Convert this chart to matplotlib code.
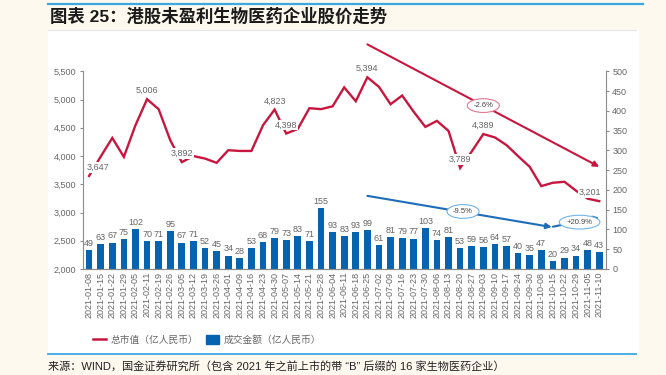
import matplotlib
matplotlib.use('Agg')
import matplotlib.pyplot as plt
from matplotlib.lines import Line2D
from matplotlib.patches import Patch, Rectangle

dates = ['2021-01-08', '2021-01-15', '2021-01-22', '2021-01-29', '2021-02-05', '2021-02-11',
         '2021-02-19', '2021-02-26', '2021-03-05', '2021-03-12', '2021-03-19', '2021-03-26',
         '2021-04-01', '2021-04-09', '2021-04-16', '2021-04-23', '2021-04-30', '2021-05-07',
         '2021-05-14', '2021-05-21', '2021-05-28', '2021-06-04', '2021-06-11', '2021-06-18',
         '2021-06-25', '2021-07-02', '2021-07-09', '2021-07-16', '2021-07-23', '2021-07-30',
         '2021-08-06', '2021-08-13', '2021-08-20', '2021-08-27', '2021-09-03', '2021-09-10',
         '2021-09-17', '2021-09-24', '2021-09-30', '2021-10-08', '2021-10-15', '2021-10-22',
         '2021-10-29', '2021-11-05', '2021-11-10']

# 总市值 (left axis)
mkt_cap = [3647, 3990, 4320, 3985, 4545, 5006, 4829, 4280, 3892, 4000, 3955, 3880,
           4103, 4090, 4090, 4545, 4823, 4398, 4480, 4847, 4830, 4880, 5215, 4970,
           5394, 5224, 4917, 5071, 4782, 4516, 4622, 4445, 3789, 4080, 4389, 4329,
           4193, 3998, 3809, 3468, 3527, 3544, 3385, 3245, 3201]

# 成交金额 (right axis)
turnover = [49, 63, 67, 75, 102, 70, 71, 95, 67, 71, 52, 45, 34, 28, 53, 68, 79, 73,
            83, 71, 155, 93, 83, 93, 99, 61, 81, 79, 77, 103, 74, 81, 53, 59, 56, 64,
            57, 40, 35, 47, 20, 29, 34, 48, 43]

# labelled points on the line: index -> horizontal shift in points
cap_labels = {0: 6.5, 5: 0, 8: 0, 16: 0, 17: 0, 24: 0, 32: 0, 34: 0, 44: -6.5}

# trend arrows: (start idx, start val, end idx, end val, label)
cap_trend = (24, 5977, 44, 3809, '-2.6%')
vol_trends = [(24, 185, 39.9, 106, '-9.5%'), (40, 107, 44, 130, '+20.9%')]

RED = '#C8173F'
BLUE = '#0563AF'
GRAY = '#666666'
num_font = ['Liberation Sans', 'DejaVu Sans']
cjk_font = ['Liberation Sans', 'Noto Sans CJK SC', 'DejaVu Sans']

fig = plt.figure(figsize=(6.66, 3.75), dpi=100, facecolor='#FEF9EF')
W, H = 666, 375

# white chart card + rules
fig.patches.append(Rectangle((48 / W, 1 - 354 / H), (639 - 48) / W, (354 - 29.5) / H,
                             transform=fig.transFigure, fc='white', ec='none', zorder=-10))
fig.add_artist(Line2D([48 / W, 643 / W], [1 - 4 / H, 1 - 4 / H], color='#3DA8E0', lw=1.6))
fig.add_artist(Line2D([48 / W, 636 / W], [1 - 354 / H, 1 - 354 / H], color='#3DA8E0', lw=1.3))
fig.add_artist(Line2D([48 / W, 636 / W], [1 - 29.5 / H, 1 - 29.5 / H], color='#E2E8E8', lw=0.8))

fig.text(50 / W, 1 - 16 / H, '图表 25：港股未盈利生物医药企业股价走势', fontsize=12.5,
         fontweight='bold', family=cjk_font, color='#1A1A1A', va='center', ha='left')
fig.text(48 / W, 1 - 366 / H,
         '来源：WIND，国金证券研究所（包含 2021 年之前上市的带 “B” 后缀的 16 家生物医药企业）',
         fontsize=8, family=cjk_font, color='#222222', va='center', ha='left')

ax = fig.add_axes([82.7 / W, 1 - 269 / H, (606 - 82.7) / W, (269 - 71.3) / H])
ax2 = ax.twinx()
ax2.set_zorder(1)
ax.set_zorder(2)
ax.patch.set_visible(False)
ax2.patch.set_visible(False)

x = list(range(len(dates)))

bars = ax2.bar(x, turnover, width=0.58, color=BLUE, zorder=2)
for xi, v in zip(x, turnover):
    ax2.annotate(str(v), (xi, v), xytext=(0, 1.5), textcoords='offset points',
                 ha='center', va='bottom', fontsize=6.5, color=GRAY, family=num_font)

ax.plot(x, mkt_cap, color=RED, lw=1.7, zorder=3, solid_joinstyle='miter')
for i, dx in cap_labels.items():
    ax.annotate(f'{mkt_cap[i]:,}', (i, mkt_cap[i]), xytext=(dx, 6.2), textcoords='offset points',
                ha='center', va='center', fontsize=6.5, color=GRAY, family=num_font, zorder=4,
                bbox=dict(boxstyle='square,pad=0.1', fc='white', ec='none'))

# trend arrows
x0, y0, x1, y1, lab = cap_trend
ax.annotate('', xy=(x1, y1), xytext=(x0, y0), annotation_clip=False,
            arrowprops=dict(arrowstyle='-|>', color=RED, lw=1.5, mutation_scale=8,
                            shrinkA=0, shrinkB=0))
ax.text((x0 + x1) / 2, (y0 + y1) / 2, lab, ha='center', va='center', fontsize=5.5,
        color='#444444', family=num_font, zorder=5,
        bbox=dict(boxstyle='ellipse,pad=0.18', fc='white', ec='#E07A90', lw=0.8))
for x0, y0, x1, y1, lab in vol_trends:
    ax2.annotate('', xy=(x1, y1), xytext=(x0, y0), annotation_clip=False,
                 arrowprops=dict(arrowstyle='-|>', color='#1F6DB8', lw=1.5, mutation_scale=8,
                                 shrinkA=0, shrinkB=0))
    ax2.text((x0 + x1) / 2 + 0.3, (y0 + y1) / 2, lab, ha='center', va='center', fontsize=5.5,
             color='#444444', family=num_font, zorder=5,
             bbox=dict(boxstyle='ellipse,pad=0.18', fc='white', ec='#6FB4E6', lw=0.8))

ax.set_xlim(-0.55, 44.58)
ax.set_ylim(2000, 5500)
ax.set_yticks(range(2000, 5501, 500))
ax.set_yticklabels([f'{v:,}' for v in range(2000, 5501, 500)])
ax2.set_ylim(0, 500)
ax2.set_yticks(range(0, 501, 50))

ax.set_xticks(x)
ax.set_xticklabels(dates, rotation=90)

for a in (ax, ax2):
    for s in a.spines.values():
        s.set_color('#8C8C8C')
        s.set_linewidth(0.8)
    a.spines['top'].set_visible(False)
    a.tick_params(axis='y', length=2.5, width=0.8, color='#8C8C8C', labelsize=6.5,
                  labelcolor=GRAY, pad=2)
    for t in a.get_yticklabels():
        t.set_family(num_font)
ax.spines['right'].set_visible(False)
ax2.spines['left'].set_visible(False)
ax.tick_params(axis='x', length=0, labelsize=6.5, labelcolor=GRAY, pad=2)
for t in ax.get_xticklabels():
    t.set_family(num_font)

handles = [Line2D([], [], color=RED, lw=1.8), Patch(color=BLUE)]
leg = fig.legend(handles, ['总市值（亿人民币）', '成交金额（亿人民币）'], ncol=2,
                 loc='center', bbox_to_anchor=(207 / W, 1 - 340 / H), frameon=False,
                 prop={'family': cjk_font, 'size': 7}, labelcolor=GRAY,
                 handlelength=1.3, handleheight=1.1, handletextpad=0.5, columnspacing=0.8)

fig.savefig('out.png', dpi=100, facecolor=fig.get_facecolor())
